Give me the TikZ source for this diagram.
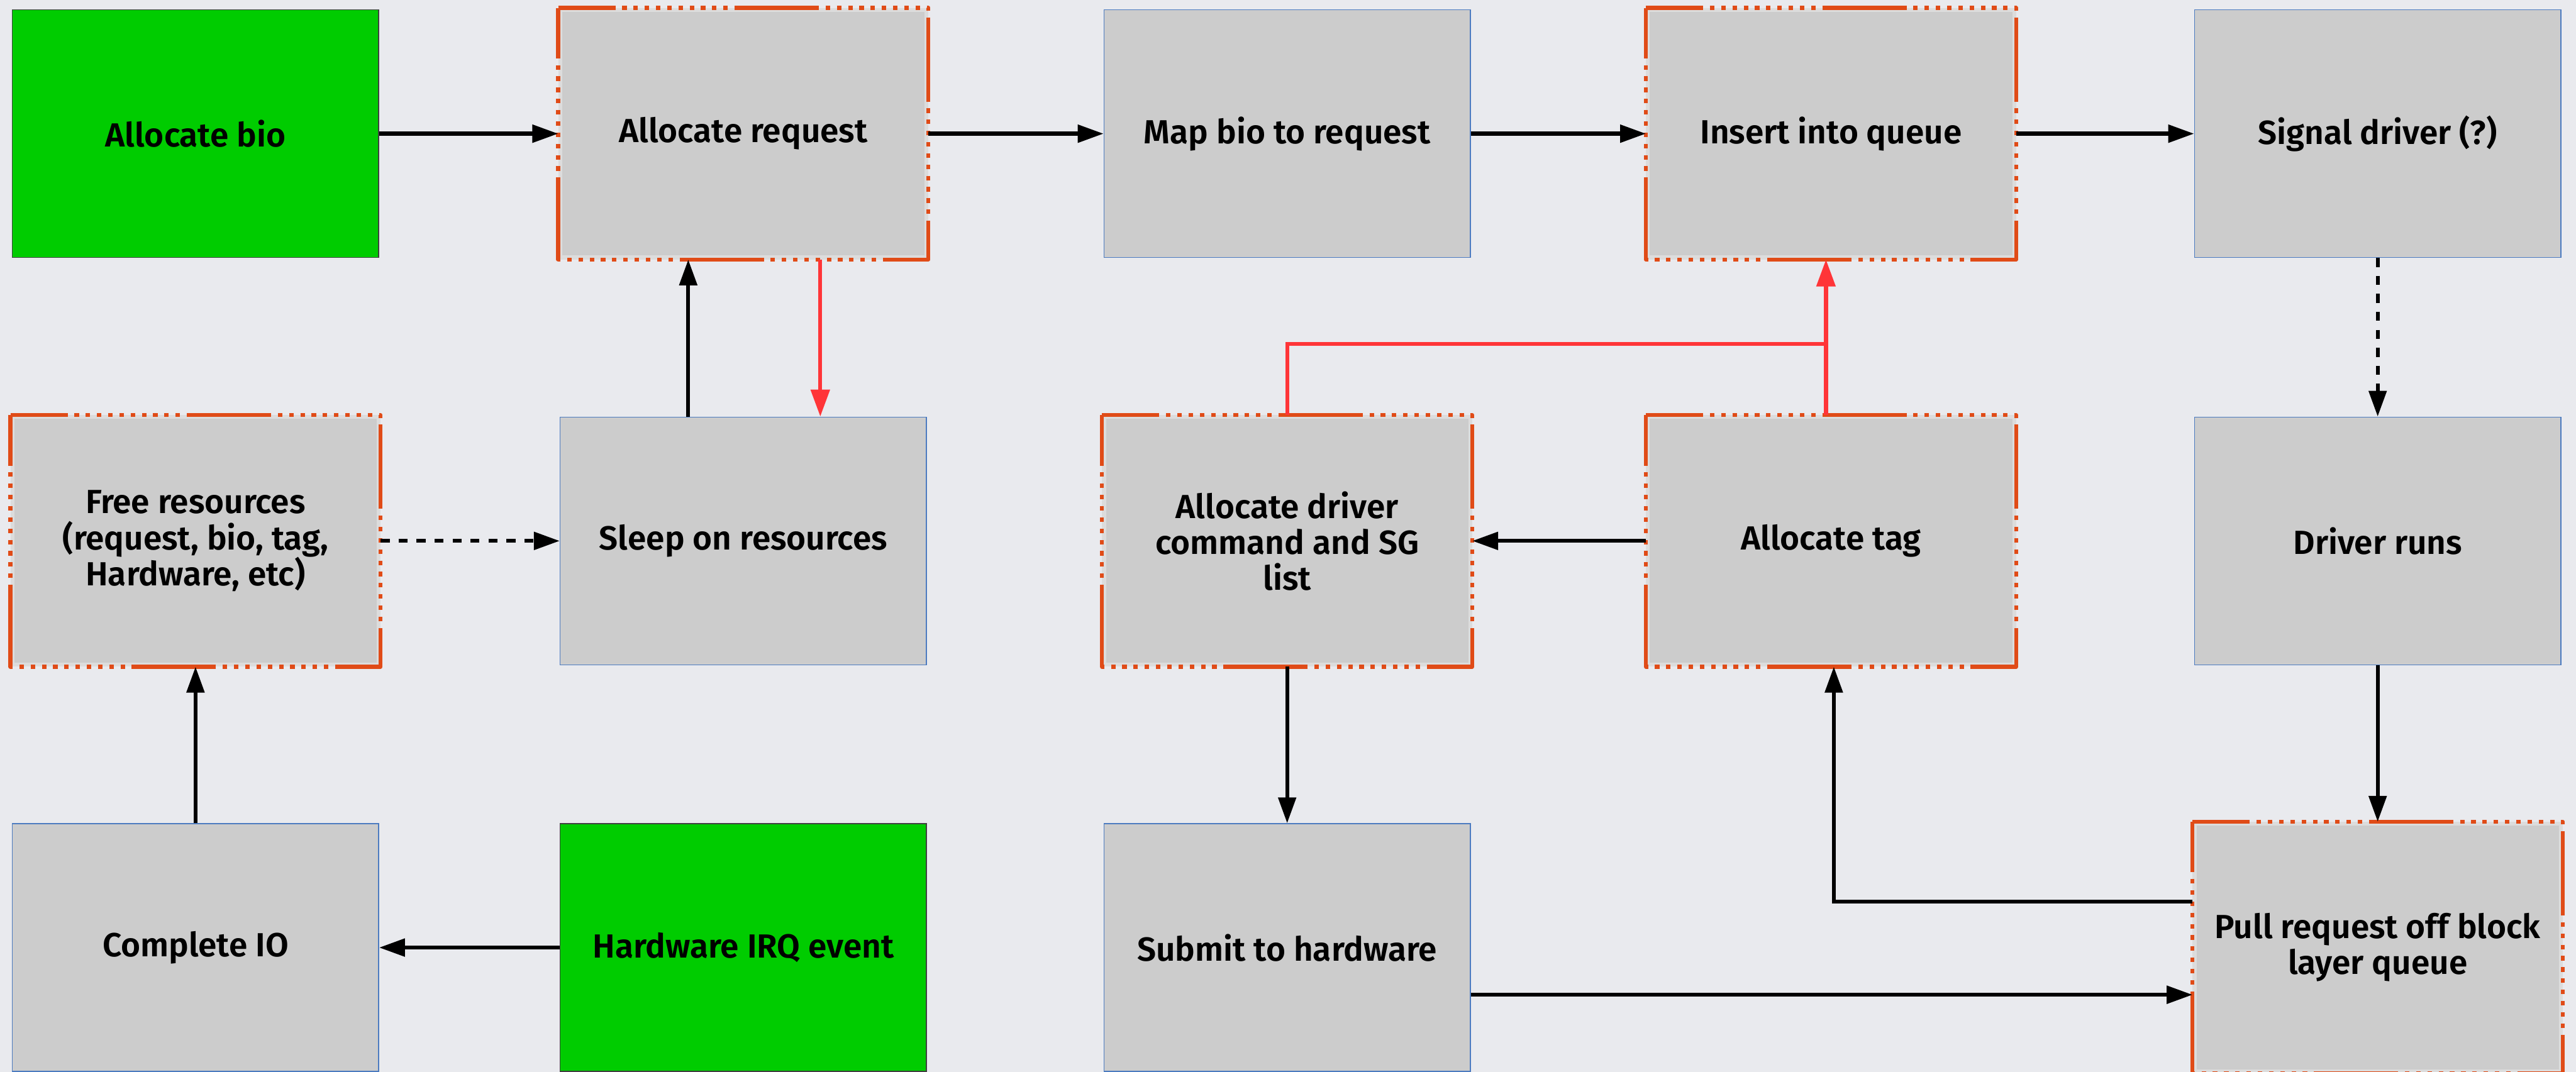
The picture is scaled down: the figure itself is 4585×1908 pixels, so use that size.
\documentclass[tikz,border=0pt]{standalone}
\usepackage{fontspec}
\setmainfont{Fira Sans}
\newfontfamily\boxfont{Fira Sans SemiBold}
\usetikzlibrary{arrows.meta}

\definecolor{bgcol}{HTML}{E9EAEE}
\definecolor{boxgray}{HTML}{CCCCCC}
\definecolor{edgeblue}{HTML}{4C7BC0}
\definecolor{startgreen}{HTML}{00CC00}
\definecolor{hotorange}{HTML}{E04B17}
\definecolor{lockred}{HTML}{FF3538}
\definecolor{frameunder}{HTML}{DCDCDC}

\tikzset{
  box/.style={rectangle, minimum width=652pt, minimum height=441pt, inner sep=0pt,
    align=center, font=\fontsize{59.5}{64}\boxfont, text=black},
  plainbox/.style={box, fill=boxgray, draw=edgeblue, line width=1.6pt},
  startbox/.style={box, fill=startgreen, draw=black!75, line width=1.6pt},
  hotbox/.style={box, fill=boxgray, draw=frameunder, line width=7pt},
  hotframe/.style={draw=hotorange, line width=7pt, line join=round,
    dash pattern=on 150pt off 12pt on 8pt off 12pt on 8pt off 12pt on 8pt off 12pt
      on 8pt off 12pt on 8pt off 12pt on 8pt off 12pt on 8pt off 12pt on 8pt off 12pt
      on 8pt off 12pt on 8pt off 12pt,
    dash phase=48pt},
  arr/.style={draw=black, line width=7pt, -{Triangle[length=46pt,width=31pt]}},
  dasharr/.style={arr, dash pattern=on 16pt off 16pt},
  redarr/.style={draw=lockred, line width=7pt, -{Triangle[length=48pt,width=33pt]}},
  redline/.style={draw=lockred, line width=7pt},
}

% orange dash-dot outline around a node
\newcommand{\hotoutline}[1]{%
  \draw[hotframe] (#1.north west) -- (#1.north east) -- (#1.south east)
    -- (#1.south west) -- cycle;}

\begin{document}
\begin{tikzpicture}[x=1pt, y=-1pt]
  \useasboundingbox (0,0) rectangle (4585,1908);
  \fill[bgcol] (0,0) rectangle (4585,1908);

  % top row
  \node[startbox] (abio)   at (348,238)  {Allocate bio};
  \node[hotbox]   (areq)   at (1323,238) {Allocate request};
  \node[plainbox] (mapbio) at (2291,238) {Map bio to request};
  \node[hotbox]   (insq)   at (3259,238) {Insert into queue};
  \node[plainbox] (sig)    at (4232,238) {Signal driver (?)};

  % middle row
  \node[hotbox]   (free)   at (348,963)  {Free resources\\(request, bio, tag,\\Hardware, etc)};
  \node[plainbox] (sleep)  at (1323,963) {Sleep on resources};
  \node[hotbox]   (acmd)   at (2291,963) {Allocate driver\\command and SG\\list};
  \node[hotbox]   (atag)   at (3259,963) {Allocate tag};
  \node[plainbox] (drv)    at (4232,963) {Driver runs};

  % bottom row
  \node[plainbox] (done)   at (348,1687)  {Complete IO};
  \node[startbox] (irq)    at (1323,1687) {Hardware IRQ event};
  \node[plainbox] (submit) at (2291,1687) {Submit to hardware};
  \node[hotbox]   (pull)   at (4232,1687) {Pull request off block\\layer queue};

  \foreach \n in {areq,insq,free,acmd,atag,pull} {\hotoutline{\n}}

  % main flow
  \draw[arr] (abio) -- (areq);
  \draw[arr] (areq) -- (mapbio);
  \draw[arr] (mapbio) -- (insq);
  \draw[arr] (insq) -- (sig);
  \draw[dasharr] (sig) -- (drv);
  \draw[arr] (drv) -- (pull);
  \draw[arr] ([yshift=82pt]pull.west) -| ([xshift=5pt]atag.south);
  \draw[arr] (atag) -- (acmd);
  \draw[arr] (acmd) -- (submit);
  \draw[arr] ([yshift=-84pt]submit.east) -- ([yshift=-84pt]pull.west);

  % completion path
  \draw[arr] (irq) -- (done);
  \draw[arr] (done) -- (free);
  \draw[dasharr] (free) -- (sleep);
  \draw[arr] ([xshift=-98pt]sleep.north) -- ([xshift=-98pt]areq.south);

  % failure paths
  \coordinate (merge) at (3250,612);
  \draw[redarr] ([xshift=137pt]areq.south) -- ([xshift=137pt]sleep.north);
  \draw[redline] (acmd.north) |- (merge);
  \draw[redarr] ([xshift=-9pt]atag.north) -- ([xshift=-9pt]insq.south);
\end{tikzpicture}
\end{document}
